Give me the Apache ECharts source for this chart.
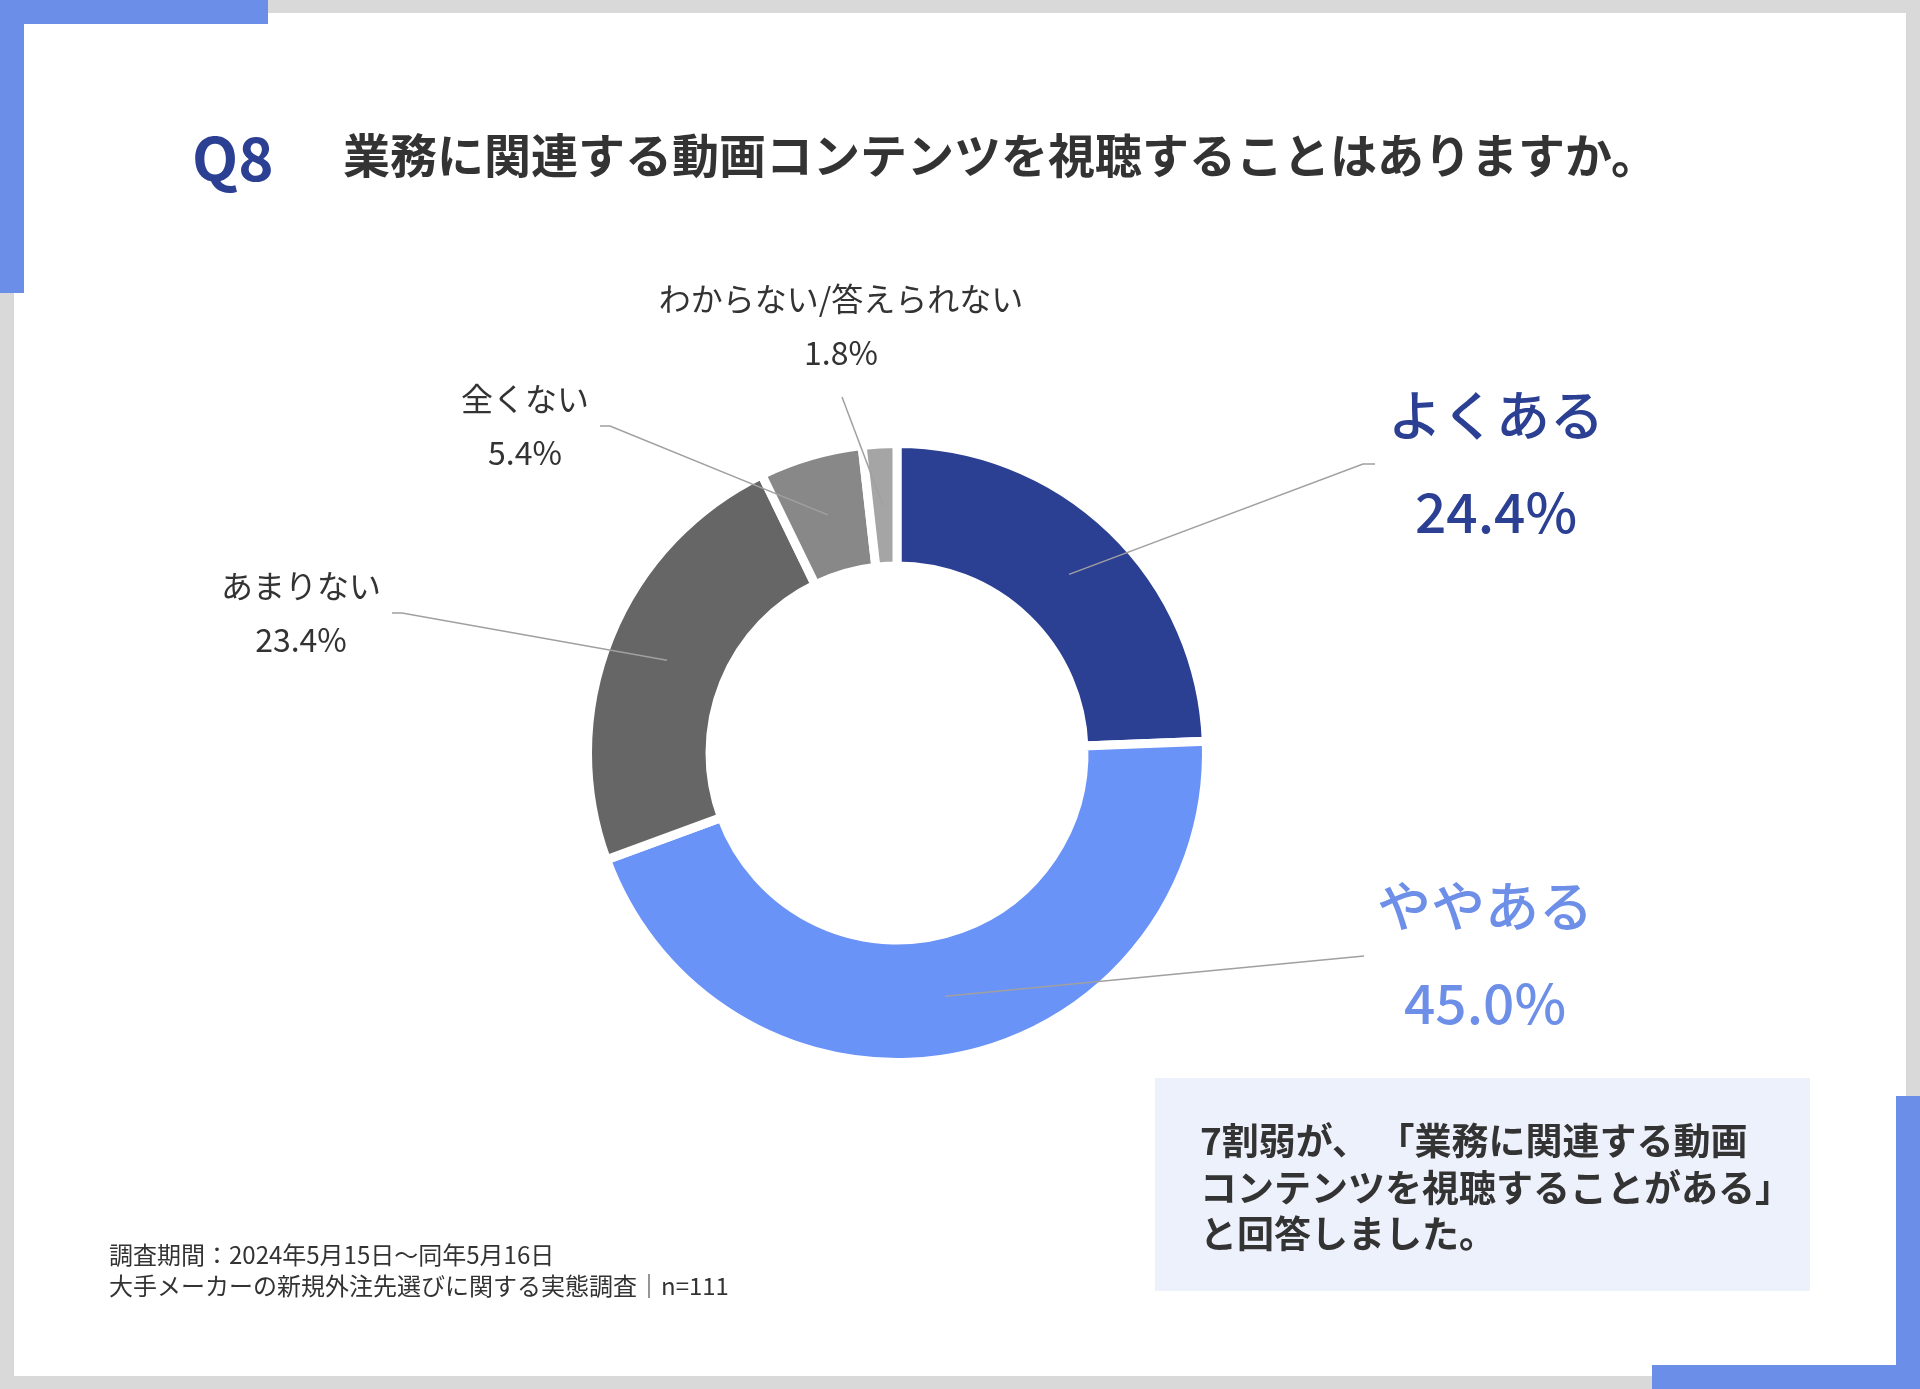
<!DOCTYPE html>
<html><head><meta charset="utf-8">
<script src="https://cdn.jsdelivr.net/npm/echarts@6/dist/echarts.min.js"></script>
<style>html,body{margin:0;padding:0;background:#fff}#c{width:1920px;height:1389px}</style>
</head><body><div id="c"></div>
<script>
// ---- data ----
const categories = ['よくある', 'ややある', 'あまりない', '全くない', 'わからない/答えられない'];
const values = [24.4, 45.0, 23.4, 5.4, 1.8];
const questionNo = 'Q8';
const titleText = '業務に関連する動画コンテンツを視聴することはありますか。';
const noteLines = ['7割弱が、 「業務に関連する動画', 'コンテンツを視聴することがある」', 'と回答しました。'];
const sourceLines = ['調査期間：2024年5月15日～同年5月16日', '大手メーカーの新規外注先選びに関する実態調査｜n=111'];

// ---- styles / layout ----
const sliceColors = ['#2b3f93', '#6a93f8', '#666666', '#888888', '#a5a5a5'];
const labelColors = ['#2b3f93', '#6d8fe8', '#333333', '#333333', '#333333'];
const FONT = '"Noto Sans CJK JP", "Noto Sans", sans-serif';
const CX = 897, CY = 753;
const labelAnchors = [
  { x: 1496, y: 464, line: [[1363, 464], [1375, 464]], big: true },
  { x: 1485, y: 955, line: [[1364, 956]], big: true },
  { x: 301, y: 613, line: [[402, 613], [392, 613]], big: false },
  { x: 525, y: 426, line: [[610, 426], [600, 426]], big: false },
  { x: 841, y: 326, line: [[842, 397]], big: false }
];

const rich = {};
categories.forEach((c, i) => {
  const big = labelAnchors[i].big;
  rich['n' + i] = { fontFamily: FONT, fontSize: big ? 54 : 32, lineHeight: big ? 97 : 54, color: labelColors[i], fontWeight: big ? 500 : 'normal', align: 'center' };
  rich['v' + i] = { fontFamily: FONT, fontSize: big ? 55 : 32, lineHeight: big ? 97 : 54, color: labelColors[i], fontWeight: big ? 500 : 'normal', align: 'center' };
});

const chart = echarts.init(document.getElementById('c'), null, { renderer: 'canvas' });
const BLUE = '#6b8fe9';
chart.setOption({
  animation: false,
  backgroundColor: '#ffffff',
  graphic: [
    { type: 'rect', shape: { x: 0, y: 0, width: 1920, height: 1389 }, style: { fill: '#d9d9d9' }, silent: true },
    { type: 'rect', shape: { x: 14, y: 13, width: 1892, height: 1363 }, style: { fill: '#ffffff' }, silent: true },
    { type: 'rect', shape: { x: 0, y: 0, width: 268, height: 24 }, style: { fill: BLUE }, silent: true },
    { type: 'rect', shape: { x: 0, y: 0, width: 24, height: 293 }, style: { fill: BLUE }, silent: true },
    { type: 'rect', shape: { x: 1896, y: 1096, width: 24, height: 293 }, style: { fill: BLUE }, silent: true },
    { type: 'rect', shape: { x: 1652, y: 1365, width: 268, height: 24 }, style: { fill: BLUE }, silent: true },
    { type: 'text', x: 192, y: 158, style: { text: questionNo, font: 'bold 60px ' + FONT, fill: '#2b3f93', textAlign: 'left', textVerticalAlign: 'middle', align: 'left', verticalAlign: 'middle' }, silent: true },
    { type: 'text', x: 343, y: 155, style: { text: titleText, font: 'bold 47px ' + FONT, fill: '#333333', textAlign: 'left', textVerticalAlign: 'middle', align: 'left', verticalAlign: 'middle' }, silent: true },
    { type: 'rect', shape: { x: 1155, y: 1078, width: 655, height: 213 }, style: { fill: '#edf1fb' }, silent: true },
    ...noteLines.map((t, i) => ({ type: 'text', x: 1200, y: 1141 + i * 46.5, style: { text: t, font: 'bold 37px ' + FONT, fill: '#333333', textAlign: 'left', textVerticalAlign: 'middle', align: 'left', verticalAlign: 'middle' }, silent: true })),
    ...sourceLines.map((t, i) => ({ type: 'text', x: 109, y: 1255 + i * 31, style: { text: t, font: '24px ' + FONT, fill: '#333333', textAlign: 'left', textVerticalAlign: 'middle', align: 'left', verticalAlign: 'middle' }, silent: true }))
  ],
  series: [
    {
      type: 'pie', center: [CX, CY], radius: [187, 309.5], startAngle: 90, clockwise: true,
      silent: true, label: { show: false }, labelLine: { show: false },
      itemStyle: { borderColor: '#ffffff', borderWidth: 9 },
      data: categories.map((n, i) => ({ name: n, value: values[i], itemStyle: { color: sliceColors[i] } }))
    },
    {
      type: 'pie', center: [CX, CY], radius: [0, 248], startAngle: 90, clockwise: true,
      silent: true, z: 5, avoidLabelOverlap: false, emphasis: { disabled: true },
      itemStyle: { color: 'rgba(0,0,0,0)', borderWidth: 0 },
      label: {
        show: true, position: 'outside',
        formatter: p => '{n' + p.dataIndex + '|' + p.name + '}\n{v' + p.dataIndex + '|' + p.value.toFixed(1) + '%}',
        rich: rich
      },
      labelLine: { show: true, length: 10, length2: 10, lineStyle: { color: '#a0a0a0', width: 1.5 } },
      labelLayout: function (params) {
        const a = labelAnchors[params.dataIndex];
        let start = params.labelLinePoints && params.labelLinePoints[0];
        return { x: a.x, y: a.y, align: 'center', verticalAlign: 'middle', labelLinePoints: [start].concat(a.line) };
      },
      data: categories.map((n, i) => ({ name: n, value: values[i] }))
    }
  ]
});
</script></body></html>
